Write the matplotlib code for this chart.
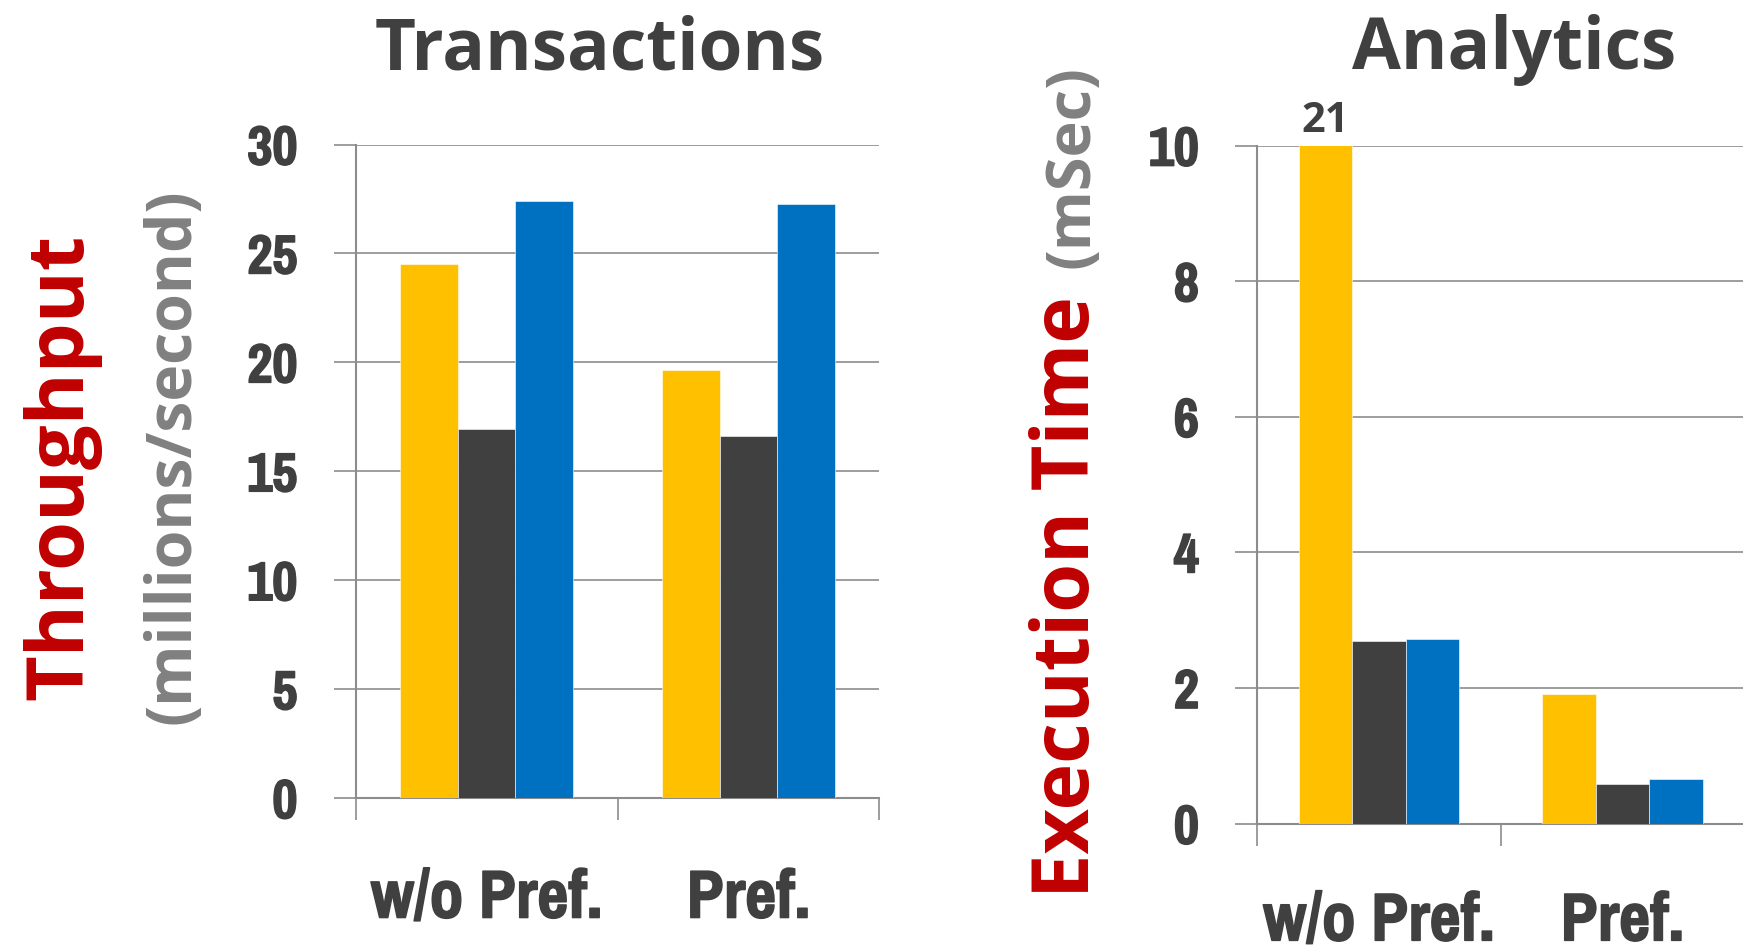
import matplotlib
matplotlib.use('Agg')
import matplotlib.pyplot as plt
from matplotlib import font_manager as fm
import matplotlib.patheffects as pe
import numpy as np

W, H, DPI = 1743, 948, 100

groups = ['w/o Pref.', 'Pref.']

# transactions throughput (millions/second)
tx_yellow = [24.5, 19.65]
tx_dark = [16.95, 16.6]
tx_blue = [27.4, 27.25]
tx_ticks = [0, 5, 10, 15, 20, 25, 30]

# analytics execution time (mSec); first yellow bar is off the scale
an_yellow = [21, 1.92]
an_dark = [2.70, 0.59]
an_blue = [2.72, 0.66]
an_ticks = [0, 2, 4, 6, 8, 10]
an_clipped_label = '21'

YELLOW, DARK, BLUE = '#FFC000', '#404040', '#0070C0'
RED, GRAY, GRID = '#C00000', '#808080', '#8C8C8C'
TEXT_FONT = ['Open Sans', 'DejaVu Sans']
BAR_W = 0.22


def condensed_bold():
    # look for a narrow bold sans face for the numbers / category labels
    keys = ['narrow-bold', 'narrowbold', 'condensed-bold', 'condensedbold',
            'condensed_bold']
    for key in keys:
        for f in fm.fontManager.ttflist:
            name = f.fname.replace(' ', '').lower()
            if key in name and not any(s in name for s in ('italic', 'mono')):
                return fm.FontProperties(fname=f.fname), True
    return fm.FontProperties(family='DejaVu Sans', weight='bold'), False


NUM_PROPS, IS_NARROW = condensed_bold()
HEAVY = [pe.withStroke(linewidth=1.1, foreground=DARK)]


def num_font(size):
    p = NUM_PROPS.copy()
    p.set_size(size if IS_NARROW else size * 0.82)
    return p


def px_box(x0, y0, x1, y1):
    return [x0 / W, 1 - y1 / H, (x1 - x0) / W, (y1 - y0) / H]


def draw_panel(ax, series, ticks, xpad):
    x = np.arange(len(groups)) + 0.5
    for i, (vals, color) in enumerate(series):
        ax.bar(x + (i - 1) * BAR_W, vals, BAR_W, color=color, zorder=3,
               edgecolor='white', linewidth=0.4)
    ax.set_xlim(0, len(groups))
    ax.set_ylim(ticks[0], ticks[-1])
    ax.set_axisbelow(True)
    ax.grid(axis='y', color=GRID, lw=1.2)
    ax.set_yticks(ticks)
    ax.set_yticklabels([str(t) for t in ticks], fontproperties=num_font(43),
                       color=DARK, path_effects=HEAVY)
    ax.set_xticks(range(len(groups) + 1))
    ax.set_xticklabels([])
    ax.set_xticks(x, minor=True)
    ax.set_xticklabels(groups, minor=True, fontproperties=num_font(53),
                       color=DARK, path_effects=HEAVY)
    ax.tick_params(axis='x', which='minor', length=0, pad=xpad)
    ax.tick_params(axis='x', which='major', length=16, width=1.2, color=GRID)
    ax.tick_params(axis='y', length=16, width=1.2, color=GRID, pad=26)
    for side in ['top', 'right']:
        ax.spines[side].set_visible(False)
    for side in ['left', 'bottom']:
        ax.spines[side].set_color(GRID)
        ax.spines[side].set_linewidth(1.5)
    return x


fig = plt.figure(figsize=(W / DPI, H / DPI), dpi=DPI)

ax1 = fig.add_axes(px_box(355.7, 144.5, 879.3, 798.1))
draw_panel(ax1, [(tx_yellow, YELLOW), (tx_dark, DARK), (tx_blue, BLUE)],
           tx_ticks, 50)

ax2 = fig.add_axes(px_box(1257.2, 145.6, 1744.0, 823.7))
x2 = draw_panel(ax2, [(an_yellow, YELLOW), (an_dark, DARK), (an_blue, BLUE)],
                an_ticks, 48)
ax2.annotate(an_clipped_label, (x2[0] - BAR_W, an_ticks[-1]),
             xytext=(0, 10), textcoords='offset points', ha='center',
             va='baseline', family=TEXT_FONT, fontweight='bold',
             fontsize=30, color=DARK, annotation_clip=False)

# titles
fig.text(600 / W, 1 - 69 / H, 'Transactions', ha='center', va='baseline',
         family=TEXT_FONT, fontweight='bold', fontsize=51, color=DARK)
fig.text(1514 / W, 1 - 69 / H, 'Analytics', ha='center', va='baseline',
         family=TEXT_FONT, fontweight='bold', fontsize=51, color=DARK)

# axis titles
fig.text(82 / W, 1 - 467 / H, 'Throughput', rotation=90,
         rotation_mode='anchor', ha='center', va='baseline',
         family=TEXT_FONT, fontweight='bold', fontsize=57, color=RED)
fig.text(189 / W, 1 - 456 / H, '(millions/second)', rotation=90,
         rotation_mode='anchor', ha='center', va='baseline',
         family=TEXT_FONT, fontweight='bold', fontsize=45, color=GRAY)
fig.text(1089 / W, 1 - 597 / H, 'Execution Time', rotation=90,
         rotation_mode='anchor', ha='center', va='baseline',
         family=TEXT_FONT, fontweight='bold', fontsize=57, color=RED)
fig.text(1089 / W, 1 - 167 / H, '(mSec)', rotation=90,
         rotation_mode='anchor', ha='center', va='baseline',
         family=TEXT_FONT, fontweight='bold', fontsize=44, color=GRAY)

fig.savefig('out.png', dpi=DPI)
